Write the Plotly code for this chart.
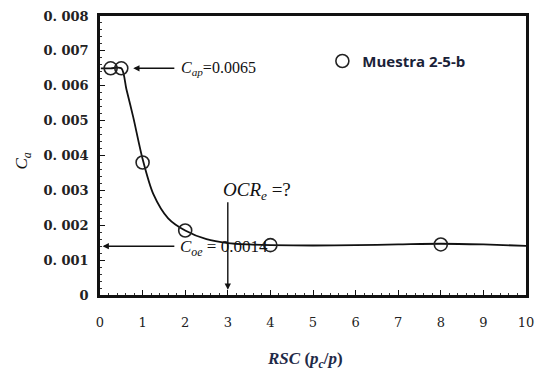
import plotly.graph_objects as go

# measured points (RSC, Ca)
pts_x = [0.25, 0.5, 1.0, 2.0, 4.0, 8.0]
pts_y = [0.0065, 0.0065, 0.0038, 0.00185, 0.00143, 0.00145]

# fitted curve
curve_x = [0.02, 0.25, 0.5, 0.62, 0.78, 1.0, 1.25, 1.6, 2.0, 2.5, 3.0, 3.5, 4.0, 5.0, 6.0, 7.0, 8.0, 9.0, 10.0]
curve_y = [0.0065, 0.0065, 0.0065, 0.0059, 0.0051, 0.0039, 0.0029, 0.0022, 0.00185, 0.0016, 0.00149, 0.00145,
           0.00143, 0.00142, 0.00143, 0.00145, 0.00147, 0.00145, 0.00141]

x_ticks = [0, 1, 2, 3, 4, 5, 6, 7, 8, 9, 10]
y_ticks = [0, 0.001, 0.002, 0.003, 0.004, 0.005, 0.006, 0.007, 0.008]
y_tick_text = ["0", "0. 001", "0. 002", "0. 003", "0. 004", "0. 005", "0. 006", "0. 007", "0. 008"]

Cap = 0.0065
Coe = 0.0014
OCR_x = 3

serif = "DejaVu Serif"
times = "Liberation Serif"

fig = go.Figure()
fig.add_trace(go.Scatter(x=curve_x, y=curve_y, mode="lines", line=dict(color="#111", width=1.8, shape="spline", smoothing=0.8),
                         showlegend=False, hoverinfo="skip"))
fig.add_trace(go.Scatter(x=pts_x, y=pts_y, mode="markers", name="<b>Muestra 2-5-b</b>",
                         marker=dict(symbol="circle-open", size=13, color="#222", line=dict(width=1.6, color="#222"))))

ann = []
# Cap arrow
ann.append(dict(x=0.78, y=Cap, ax=1.78, ay=Cap, xref="x", yref="y", axref="x", ayref="y", text="", showarrow=True,
                arrowhead=2, arrowsize=0.9, arrowwidth=1.4, arrowcolor="#111"))
ann.append(dict(x=1.86, y=Cap, xref="x", yref="y", xanchor="left", yanchor="middle", showarrow=False,
                text="<i>C</i><sub><i>ap</i></sub>=0.0065", font=dict(family=times, size=16, color="#111")))
# Coe arrow
ann.append(dict(x=0.06, y=Coe, ax=1.78, ay=Coe, xref="x", yref="y", axref="x", ayref="y", text="", showarrow=True,
                arrowhead=2, arrowsize=0.9, arrowwidth=1.4, arrowcolor="#111"))
ann.append(dict(x=1.83, y=0.00134, xref="x", yref="y", xanchor="left", yanchor="middle", showarrow=False,
                text="<i>C</i><sub><i>oe</i></sub> = 0.0014", font=dict(family=times, size=17, color="#111")))
# OCR arrow
ann.append(dict(x=OCR_x, y=0.00015, ax=OCR_x, ay=0.0027, xref="x", yref="y", axref="x", ayref="y", text="", showarrow=True,
                arrowhead=2, arrowsize=0.9, arrowwidth=1.4, arrowcolor="#111"))
ann.append(dict(x=2.84, y=0.00298, xref="x", yref="y", xanchor="left", yanchor="middle", showarrow=False,
                text="<i>OCR</i><sub><i>e</i></sub> =?", font=dict(family=times, size=19, color="#111")))
# axis titles
ann.append(dict(x=-0.21, y=0.48, xref="paper", yref="paper", showarrow=False, textangle=-90,
                text="<i>C</i><sub><i>a</i></sub>", font=dict(family=times, size=17, color="#111")))
ann.append(dict(x=0.481, y=-0.278, xref="paper", yref="paper", showarrow=False,
                text="<b><i>RSC</i> (<i>p</i><sub><i>c</i></sub>/<i>p</i>)</b>", font=dict(family="Liberation Serif", size=17, color="#1f2a48")))

fig.update_layout(
    width=537, height=377,
    margin=dict(l=100, r=11, t=16, b=82, autoexpand=False),
    paper_bgcolor="white", plot_bgcolor="white",
    annotations=ann,
    showlegend=True,
    legend=dict(x=0.522, y=0.897, xanchor="left", yanchor="top", bgcolor="rgba(0,0,0,0)",
                font=dict(family="Open Sans", size=15, color="#1a2238")),
    xaxis=dict(range=[0, 10], tickvals=x_ticks, ticktext=[str(v) for v in x_ticks], showgrid=False, zeroline=False,
               automargin=False,
               showline=True, linecolor="#111", linewidth=2.5, mirror=True,
               ticks="inside", ticklen=5, tickcolor="#111", tickwidth=1,
               minor=dict(ticks="inside", ticklen=2, dtick=0.2, tickcolor="#333"),
               tickfont=dict(family=serif, size=13, color="#222"), ticklabelstandoff=14),
    yaxis=dict(range=[0, 0.008], tickvals=y_ticks, ticktext=y_tick_text, showgrid=False, zeroline=False,
               automargin=False,
               showline=True, linecolor="#111", linewidth=2.5, mirror=True,
               ticks="inside", ticklen=5, tickcolor="#111", tickwidth=1,
               minor=dict(ticks="inside", ticklen=2, dtick=0.0002, tickcolor="#333"),
               tickfont=dict(family=serif, size=13, color="#222", weight="bold"), ticklabelstandoff=6),
)

fig.write_html("out.html", config={"displayModeBar": False},
               post_script="document.body.style.margin='0';")
